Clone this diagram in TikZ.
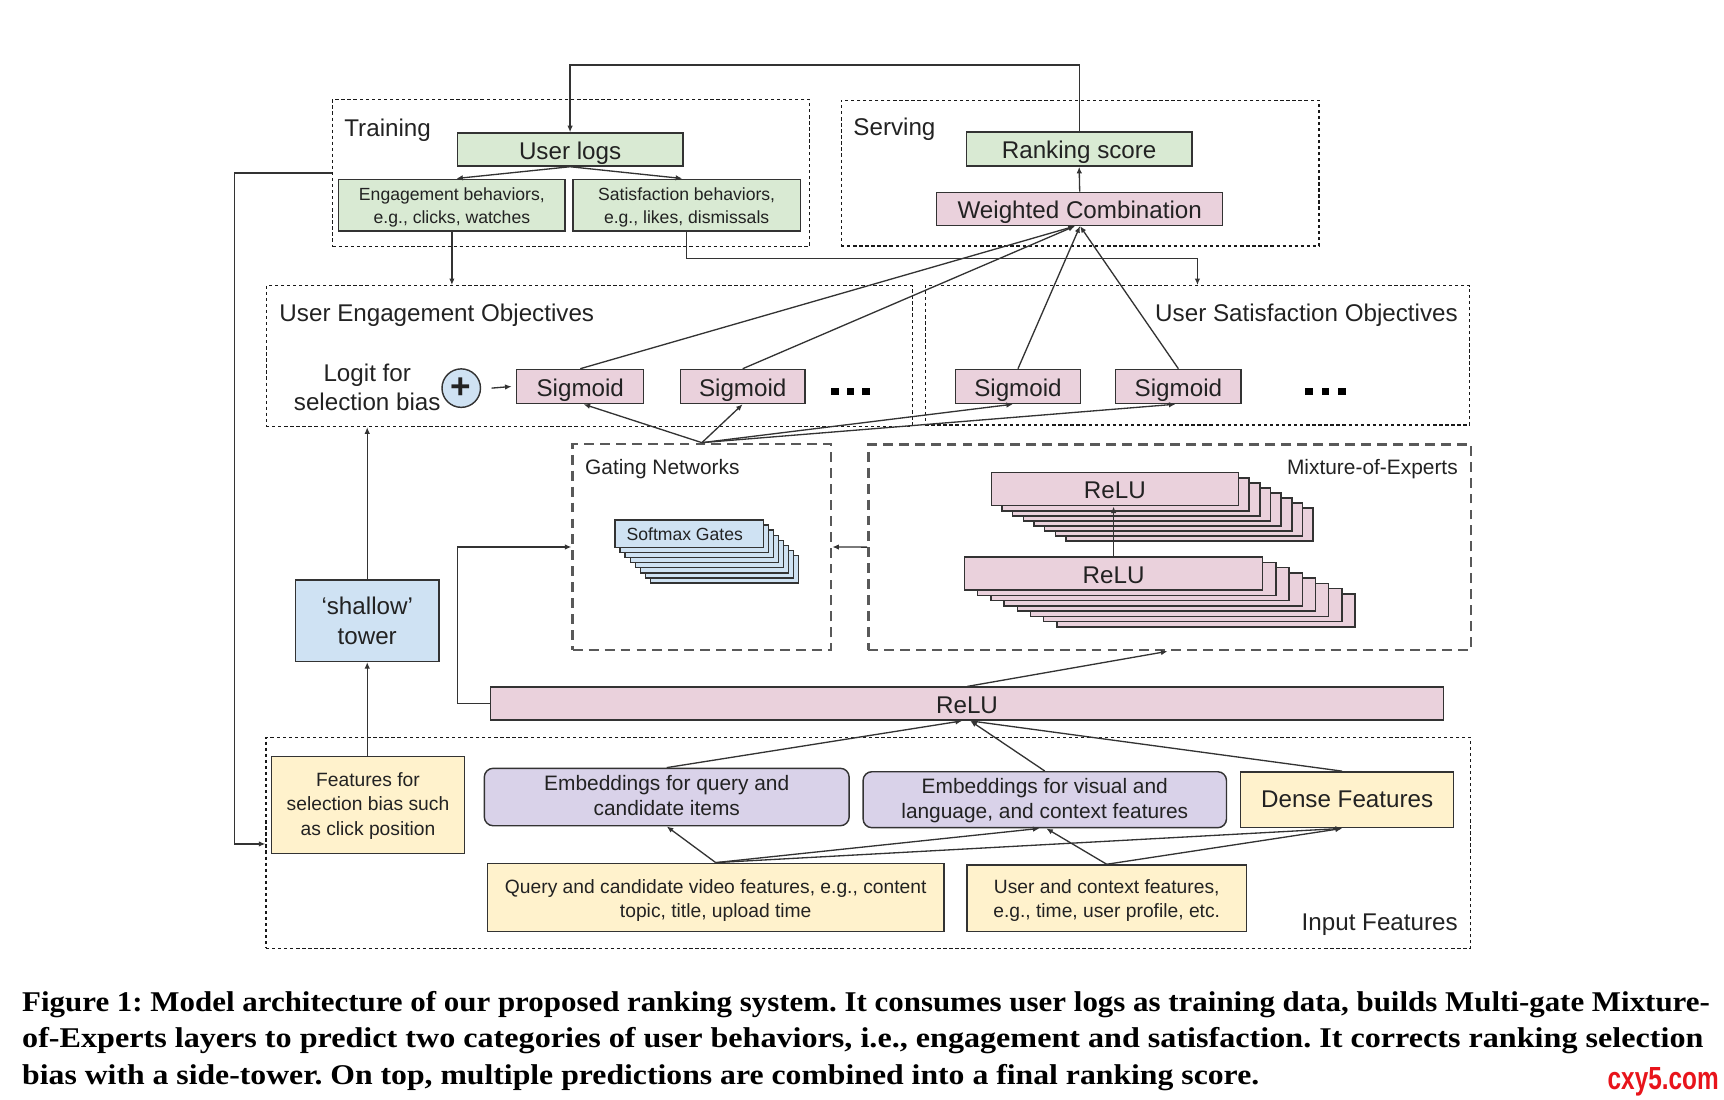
\documentclass[tikz,border=0pt]{standalone}
\usepackage{fontspec}
\setmainfont{Liberation Sans}
\newfontfamily\capfont{Liberation Serif}
\usetikzlibrary{arrows.meta,calc}
\definecolor{cgreen}{HTML}{D9EAD3}
\definecolor{cpink}{HTML}{EAD1DC}
\definecolor{cblue}{HTML}{CFE2F3}
\definecolor{cyel}{HTML}{FFF2CC}
\definecolor{clav}{HTML}{D9D2E9}
\definecolor{ctext}{HTML}{222222}
\definecolor{cline}{HTML}{333333}
\definecolor{wmred}{HTML}{E8141B}
\newcommand\lw[2]{\raisebox{-#1}[\height][\depth]{\begin{tabular}{@{}c@{}}#2\end{tabular}}}
\tikzset{
  bx/.style={draw=cline, line width=1.3pt, inner sep=0pt, align=center, text=ctext},
  big/.style={font=\fontsize{22}{26}\selectfont},
  mid/.style={font=\fontsize{19}{23}\selectfont},
  md/.style={font=\fontsize{17.5}{22}\selectfont},
  sm/.style={font=\fontsize{16}{21}\selectfont},
  one/.style={text height=17.4pt, text depth=0pt},
  grn/.style={bx, fill=cgreen},
  pnk/.style={bx, fill=cpink},
  blu/.style={bx, fill=cblue},
  yel/.style={bx, fill=cyel},
  lav/.style={bx, fill=clav, rounded corners=8pt},
  thindash/.style={draw=black!90, line width=1pt, dash pattern=on 3pt off 2.5pt, inner sep=0pt},
  thickdash/.style={draw=black!65, line width=2.4pt, dash pattern=on 9pt off 5.5pt, inner sep=0pt},
  lab/.style={inner sep=0pt, text=ctext},
  arr/.style={draw=cline, line width=1.2pt, -{Latex[length=6pt,width=5pt]}},
}
\begin{document}
\begin{tikzpicture}[x=1pt,y=-1pt]
\useasboundingbox (0,0) rectangle (1568,1000);

% containers
\node[thindash, minimum width=433.4pt, minimum height=134.1pt] (training) at (519.3,157.35) {};
\node[thindash, minimum width=434.6pt, minimum height=132.7pt] (serving) at (982.3,157.35) {};
\node[thindash, minimum width=587.6pt, minimum height=128.2pt] (engobj) at (535.8,323.9) {};
\node[thindash, minimum width=495.2pt, minimum height=126.7pt] (satobj) at (1089.1,323.15) {};
\node[thickdash, minimum width=234.9pt, minimum height=187.4pt] (gating) at (638.35,497.5) {};
\node[thickdash, minimum width=548.2pt, minimum height=187.2pt] (moe) at (1063.9,497.6) {};
\node[thindash, minimum width=1095.6pt, minimum height=191.9pt] (input) at (789.7,766.55) {};

% container labels
\node[lab, big, anchor=base west] (trainlab) at (313,124) {Training};
\node[lab, big, anchor=base west] (servlab) at (776,123) {Serving};
\node[lab, big, anchor=base west] (englab) at (254,292) {User Engagement Objectives};
\node[lab, big, anchor=base east] (satlab) at (1326,292) {User Satisfaction Objectives};
\node[lab, mid, anchor=base west] (gatlab) at (532,432) {Gating Networks};
\node[lab, mid, anchor=base east] (moelab) at (1326,432) {Mixture-of-Experts};
\node[lab, big, anchor=base east] (inlab) at (1326,846.5) {Input Features};

% training / serving
\node[grn, big, one, minimum width=205pt, minimum height=30pt] (userlogs) at (518.5,136) {User logs};
\node[grn, sm, minimum width=206pt, minimum height=47pt] (engb) at (411,186.5) {\lw{2pt}{Engagement behaviors,\\e.g., clicks, watches}};
\node[grn, sm, minimum width=207pt, minimum height=47pt] (satb) at (624.5,186.5) {\lw{2pt}{Satisfaction behaviors,\\e.g., likes, dismissals}};
\node[grn, big, one, minimum width=205pt, minimum height=31pt] (ranking) at (981.5,135.5) {Ranking score};
\node[pnk, big, one, minimum width=260pt, minimum height=30pt] (weighted) at (982,190) {Weighted Combination};

% objectives
\node[pnk, big, one, minimum width=115.5pt, minimum height=31pt] (sig1) at (527.75,351.5) {Sigmoid};
\node[pnk, big, one, minimum width=113pt, minimum height=31pt] (sig2) at (675.5,351.5) {Sigmoid};
\node[pnk, big, one, minimum width=113.7pt, minimum height=31pt] (sig3) at (925.85,351.5) {Sigmoid};
\node[pnk, big, one, minimum width=114pt, minimum height=31pt] (sig4) at (1071.75,351.5) {Sigmoid};
\node[lab, big, align=center] (logit) at (334,352.5) {Logit for\\selection bias};
\node[bx, fill=cblue, circle, minimum size=35pt] (plus) at (419.5,353) {\fontsize{32}{32}\selectfont\bfseries +};
\foreach \x in {756,770,784,1187,1202,1217} \fill[black] (\x,353) rectangle ++(7,6);

% softmax gates stack
\foreach \i in {7,6,...,1} {
  \draw[draw=cline, line width=1.3pt, fill=cblue] (559.4+4.6*\i,473+4.6*\i) rectangle (694.2+4.6*\i,498+4.6*\i);
}
\node[blu, sm, minimum width=134.8pt, minimum height=25pt] (softmax) at (626.8,485.5) {Softmax Gates\hspace{8pt}};

% experts stacks
\foreach \i in {7,6,...,1} {
  \draw[draw=cline, line width=1.3pt, fill=cpink] (901.7+9.7*\i,430+4.6*\i) rectangle (1126.4+9.7*\i,460+4.6*\i);
}
\node[pnk, big, one, minimum width=224.7pt, minimum height=30pt] (relu1) at (1014,445) {ReLU};
\foreach \i in {7,6,...,1} {
  \draw[draw=cline, line width=1.3pt, fill=cpink] (877.2+12*\i,506.6+4.8*\i) rectangle (1148.4+12*\i,536.6+4.8*\i);
}
\node[pnk, big, one, minimum width=271.2pt, minimum height=30pt] (relu2) at (1012.8,521.6) {ReLU};

\node[pnk, big, one, minimum width=867pt, minimum height=30pt] (relu) at (879.5,640) {ReLU};
\node[blu, big, minimum width=130.7pt, minimum height=74pt, font=\fontsize{22}{27}\selectfont] (tower) at (334,564.5) {‘shallow’\\tower};

% input features
\node[yel, md, minimum width=175.2pt, minimum height=87.9pt] (featsel) at (334.7,732.15) {\lw{1pt}{Features for\\selection bias such\\as click position}};
\node[lav, mid, minimum width=331.8pt, minimum height=52.2pt] (embq) at (606.4,724.9) {\lw{1pt}{Embeddings for query and\\candidate items}};
\node[lav, mid, minimum width=330.5pt, minimum height=50.9pt] (embv) at (950.25,727.35) {\lw{1pt}{Embeddings for visual and\\language, and context features}};
\node[yel, big, minimum width=193.7pt, minimum height=50.8pt] (dense) at (1225.25,727.4) {Dense Features};
\node[yel, md, minimum width=415.1pt, minimum height=62.2pt] (qv) at (650.95,816.3) {\lw{3pt}{Query and candidate video features, e.g., content\\topic, title, upload time}};
\node[yel, md, minimum width=254.3pt, minimum height=60.7pt] (uc) at (1006.55,817.05) {\lw{2pt}{User and context features,\\e.g., time, user profile, etc.}};

% connectors
\coordinate (topy) at (0,59);
\draw[arr] (ranking.north) -- (ranking.north |- topy) -| (userlogs.north);
\draw[arr] (userlogs.south) -- ([xshift=4pt]engb.north);
\draw[arr] (userlogs.south) -- ([xshift=-4pt]satb.north);
\draw[arr] (engb.south) -- (engb.south |- engobj.north);
\coordinate (sjy) at (0,235);
\draw[arr] (satb.south) |- (satobj.north |- sjy) -- (satobj.north);
\draw[arr] (weighted.north) -- (ranking.south);
\draw[arr] (sig1.north) -- ([xshift=-4.3pt]weighted.south);
\draw[arr] (sig2.north) -- ([xshift=-4.3pt]weighted.south);
\draw[arr] (sig3.north) -- ([xshift=0.3pt]weighted.south);
\draw[arr] (sig4.north) -- ([xshift=0.3pt]weighted.south);
\draw[arr] ([xshift=9.5pt]plus.east) -- ([xshift=-4pt]sig1.west);
\draw[arr] (gating.north) -- ([xshift=3pt]sig1.south);
\draw[arr] (gating.north) -- (sig2.south);
\draw[arr] (gating.north) -- ([xshift=-4.6pt]sig3.south);
\draw[arr] (gating.north) -- ([xshift=-2.6pt]sig4.south);
\draw[arr] (moe.west) -- (gating.east);
\coordinate (glx) at (416,0);
\draw[arr] (relu.west) -| (glx |- gating.west) -- (gating.west);
\draw[arr] (relu.north) -- ([xshift=-2pt]moe.south);
\draw[arr] (relu2.north) -- (relu2.north |- relu1.south);
\draw[arr] (featsel.north) -- (featsel.north -| tower.south) -- (tower.south);
\draw[arr] (tower.north) -- (tower.north |- engobj.south);
\coordinate (fbx) at (213,767.6);
\draw[arr] (training.west) -| (fbx) -- (fbx -| input.west);
\draw[arr] (embq.north) -- ([xshift=-4.5pt]relu.south);
\draw[arr] (embv.north) -- ([xshift=3pt]relu.south);
\draw[arr] ([xshift=-4.6pt]dense.north) -- ([xshift=3pt]relu.south);
\draw[arr] (qv.north) -- (embq.south);
\draw[arr] (qv.north) -- ([xshift=-4.75pt]embv.south);
\draw[arr] (qv.north) -- ([xshift=-4.6pt]dense.south);
\draw[arr] (uc.north) -- ([xshift=1.35pt]embv.south);
\draw[arr] (uc.north) -- ([xshift=-4.6pt]dense.south);

% caption
\node[inner sep=0pt, anchor=base west] (cap1) at (20,920) {\frenchspacing\capfont\bfseries\fontsize{26}{30}\selectfont\resizebox{1535pt}{\height}{Figure 1: Model architecture of our proposed ranking system. It consumes user logs as training data, builds Multi-gate Mixture-}};
\node[inner sep=0pt, anchor=base west] (cap2) at (20,953) {\frenchspacing\capfont\bfseries\fontsize{26}{30}\selectfont\resizebox{1529pt}{\height}{of-Experts layers to predict two categories of user behaviors, i.e., engagement and satisfaction. It corrects ranking selection}};
\node[inner sep=0pt, anchor=base west] (cap3) at (20,986) {\frenchspacing\capfont\bfseries\fontsize{26}{30}\selectfont\resizebox{1125pt}{\height}{bias with a side-tower. On top, multiple predictions are combined into a final ranking score.}};
\node[inner sep=0pt, anchor=base west, text=wmred] (wm) at (1462,991) {\resizebox{101pt}{20pt}{\bfseries cxy5.com}};
\end{tikzpicture}
\end{document}
